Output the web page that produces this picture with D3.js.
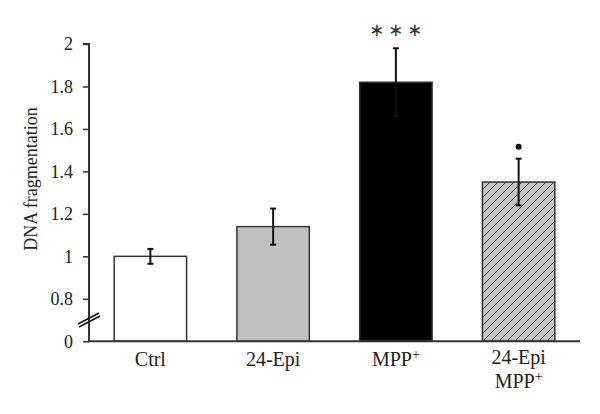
<!DOCTYPE html>
<html>
<head>
<meta charset="utf-8">
<script src="https://cdn.jsdelivr.net/npm/d3@7"></script>
<style>
  body { margin: 0; background: #fff; }
  svg { display: block; }
  text { font-family: "Liberation Serif", "DejaVu Serif", serif; fill: #222; }
</style>
</head>
<body>
<svg id="chart" width="600" height="414"></svg>
<script>
// ---- data ----
const categories = ["Ctrl", "24-Epi", "MPP+", "24-Epi MPP+"];
const means = [1.0, 1.14, 1.82, 1.35];
const errors = [0.035, 0.085, 0.16, 0.11];
const significance = ["", "", "***", "•"];
const yTickValues = [0.6, 0.8, 1.0, 1.2, 1.4, 1.6, 1.8, 2.0];
const yTickLabels = ["0", "0.8", "1", "1.2", "1.4", "1.6", "1.8", "2"];
const fills = ["#ffffff", "#c0c0c0", "#000000", "url(#hatch)"];

// ---- layout ----
const svg = d3.select("#chart");
const margin = { left: 89, right: 20, top: 44, bottom: 73 };
const baseline = 341.3;

const x = d3.scaleBand()
  .domain(categories)
  .range([margin.left, 580])
  .paddingInner(0.41)
  .paddingOuter(0.205);

const y = d3.scaleLinear()
  .domain([0.6, 2.0])
  .range([baseline, 44]);

// hatch pattern
const defs = svg.append("defs");
const pat = defs.append("pattern")
  .attr("id", "hatch")
  .attr("patternUnits", "userSpaceOnUse")
  .attr("width", 8).attr("height", 8);
pat.append("rect").attr("width", 8).attr("height", 8).attr("fill", "#c4c4c4");
pat.append("path")
  .attr("d", "M-2,2 L2,-2 M0,8 L8,0 M6,10 L10,6")
  .attr("stroke", "#333").attr("stroke-width", 1);

// bars
svg.append("g").selectAll("rect")
  .data(categories)
  .join("rect")
  .attr("x", d => x(d))
  .attr("width", x.bandwidth())
  .attr("y", (d, i) => y(means[i]))
  .attr("height", (d, i) => y(0.6) - y(means[i]))
  .attr("fill", (d, i) => fills[i])
  .attr("stroke", "#333")
  .attr("stroke-width", 1.5);

// error bars
const eg = svg.append("g").attr("stroke", "#111").attr("stroke-width", 2);
categories.forEach((c, i) => {
  const cx = x(c) + x.bandwidth() / 2;
  const hi = y(means[i] + errors[i]);
  const lo = y(means[i] - errors[i]);
  eg.append("line").attr("x1", cx).attr("x2", cx).attr("y1", hi).attr("y2", lo);
  eg.append("line").attr("x1", cx - 3).attr("x2", cx + 3).attr("y1", hi).attr("y2", hi);
  eg.append("line").attr("x1", cx - 3).attr("x2", cx + 3).attr("y1", lo).attr("y2", lo);
});

// significance markers
categories.forEach((c, i) => {
  if (!significance[i]) return;
  const cx = x(c) + x.bandwidth() / 2;
  const top = y(means[i] + errors[i]);
  if (significance[i] === "•") {
    svg.append("circle").attr("cx", cx).attr("cy", top - 12).attr("r", 3).attr("fill", "#111");
  } else {
    const n = significance[i].length;
    for (let k = 0; k < n; k++) {
      svg.append("text")
        .attr("x", cx + (k - (n - 1) / 2) * 19).attr("y", top - 12)
        .attr("text-anchor", "middle")
        .style("font-family", "'DejaVu Sans', sans-serif")
        .style("font-size", "18px")
        .style("fill", "#333")
        .text("∗");
    }
  }
});

// y axis
const yAxis = d3.axisLeft(y)
  .tickValues(yTickValues)
  .tickFormat((d, i) => yTickLabels[i])
  .tickSize(6)
  .tickPadding(10);
const yg = svg.append("g").attr("transform", `translate(${margin.left},0)`).call(yAxis);
yg.select(".domain").attr("stroke", "#333").attr("stroke-width", 2).attr("d", `M-6,${y(2)}H0V${baseline}`);
yg.selectAll(".tick line").attr("stroke", "#333").attr("stroke-width", 1.5);
yg.selectAll(".tick text")
  .style("font-family", "'Liberation Serif', serif")
  .style("font-size", "18px")
  .attr("fill", "#222");

// axis break marks
const brk = svg.append("g").attr("stroke", "#111").attr("stroke-width", 1.5);
brk.append("line").attr("x1", 78).attr("y1", 324).attr("x2", 99).attr("y2", 313);
brk.append("line").attr("x1", 79).attr("y1", 327).attr("x2", 100).attr("y2", 316);

// x axis line
svg.append("line")
  .attr("x1", margin.left - 1).attr("x2", 580)
  .attr("y1", baseline).attr("y2", baseline)
  .attr("stroke", "#333").attr("stroke-width", 2);

// x labels
const xl = svg.append("g");
categories.forEach((c, i) => {
  const cx = x(c) + x.bandwidth() / 2;
  const lines = c === "24-Epi MPP+" ? ["24-Epi", "MPP+"] : [c];
  const y0 = lines.length > 1 ? 363.5 : 366;
  lines.forEach((ln, j) => {
    const t = xl.append("text")
      .attr("x", cx).attr("y", y0 + j * 24)
      .attr("text-anchor", "middle")
      .style("font-size", "20px");
    if (ln.endsWith("+")) {
      t.append("tspan").text(ln.slice(0, -1));
      t.append("tspan").attr("dy", -7).style("font-size", "14px").text("+");
    } else {
      t.text(ln);
    }
  });
});

// y label
svg.append("text")
  .attr("transform", `translate(37,179) rotate(-90)`)
  .attr("text-anchor", "middle")
  .style("font-size", "18px")
  .text("DNA fragmentation");
</script>
</body>
</html>
